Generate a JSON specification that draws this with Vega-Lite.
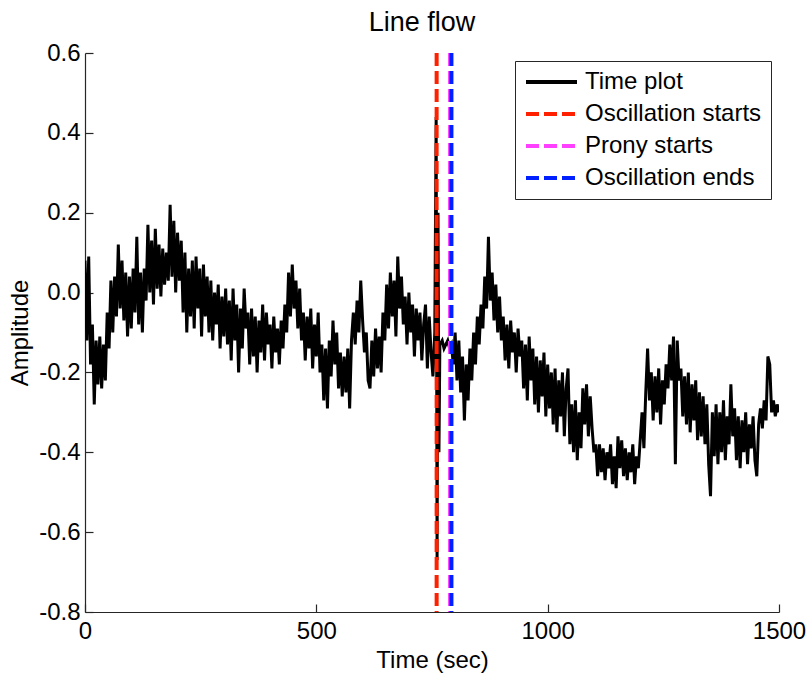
{
  "$schema": "https://vega.github.io/schema/vega-lite/v6.json",
  "autosize": "none",
  "width": 694,
  "height": 559,
  "padding": {"left": 85, "top": 53, "right": 27, "bottom": 63},
  "background": "white",
  "title": {"text": "Line flow", "fontSize": 27, "font": "Liberation Sans", "fontWeight": "normal", "color": "black", "offset": 4, "dx": -10},
  "config": {
    "view": {"stroke": null},
    "font": "Liberation Sans",
    "axis": {"domainColor": "#262626", "tickColor": "#262626", "labelColor": "black", "titleColor": "black", "labelFontSize": 24, "titleFontSize": 24, "titleFontWeight": "normal", "grid": false, "tickSize": -8, "domainWidth": 1.2, "tickWidth": 1.2, "labelFlush": false, "labelFont": "Liberation Sans", "titleFont": "Liberation Sans"},
    "legend": {"orient": "top-right", "offset": 8, "strokeColor": "#262626", "fillColor": "white", "padding": 9, "labelFontSize": 24, "labelFont": "Liberation Sans", "labelColor": "black", "labelLimit": 400, "symbolType": "stroke", "symbolSize": 2600, "symbolStrokeWidth": 4, "clipHeight": 24, "rowPadding": 8, "labelOffset": 6, "cornerRadius": 0}
  },
  "layer": [
    {
      "data": {"values": [
        {"t":0,"v":0.08},{"t":4,"v":-0.12},{"t":8,"v":0.09},{"t":12,"v":-0.18},{"t":16,"v":-0.08},{"t":20,"v":-0.28},{"t":24,"v":-0.12},{"t":28,"v":-0.23},{"t":32,"v":-0.11},{"t":36,"v":-0.24},{"t":40,"v":-0.13},{"t":44,"v":-0.22},{"t":48,"v":-0.05},{"t":52,"v":-0.14},{"t":56,"v":0.03},{"t":60,"v":-0.10},{"t":64,"v":0.04},{"t":68,"v":-0.06},{"t":72,"v":0.12},{"t":76,"v":-0.04},{"t":80,"v":0.08},{"t":84,"v":-0.07},{"t":88,"v":0.05},{"t":92,"v":-0.11},{"t":96,"v":0.04},{"t":100,"v":-0.09},{"t":104,"v":0.06},{"t":108,"v":-0.05},{"t":112,"v":0.14},{"t":116,"v":-0.08},{"t":120,"v":0.05},{"t":124,"v":-0.10},{"t":128,"v":0.06},{"t":132,"v":-0.02},{"t":136,"v":0.17},{"t":140,"v":0.00},{"t":144,"v":0.13},{"t":148,"v":-0.03},{"t":152,"v":0.16},{"t":156,"v":0.01},{"t":160,"v":0.12},{"t":164,"v":-0.01},{"t":168,"v":0.11},{"t":172,"v":0.02},{"t":176,"v":0.10},{"t":180,"v":0.03},{"t":184,"v":0.22},{"t":188,"v":0.04},{"t":192,"v":0.18},{"t":196,"v":0.00},{"t":200,"v":0.15},{"t":204,"v":0.03},{"t":208,"v":0.13},{"t":212,"v":-0.05},{"t":216,"v":0.10},{"t":220,"v":-0.10},{"t":224,"v":0.06},{"t":228,"v":-0.06},{"t":232,"v":0.08},{"t":236,"v":-0.09},{"t":240,"v":0.09},{"t":244,"v":-0.04},{"t":248,"v":0.06},{"t":252,"v":-0.11},{"t":256,"v":0.07},{"t":260,"v":-0.06},{"t":264,"v":0.04},{"t":268,"v":-0.10},{"t":272,"v":0.03},{"t":276,"v":-0.12},{"t":280,"v":0.00},{"t":284,"v":-0.08},{"t":288,"v":0.02},{"t":292,"v":-0.14},{"t":296,"v":-0.01},{"t":300,"v":-0.11},{"t":304,"v":0.01},{"t":308,"v":-0.13},{"t":312,"v":-0.02},{"t":316,"v":-0.17},{"t":320,"v":0.01},{"t":324,"v":-0.12},{"t":328,"v":-0.03},{"t":332,"v":-0.20},{"t":336,"v":-0.04},{"t":340,"v":-0.14},{"t":344,"v":0.01},{"t":348,"v":-0.09},{"t":352,"v":-0.05},{"t":356,"v":-0.18},{"t":360,"v":-0.04},{"t":364,"v":-0.16},{"t":368,"v":-0.06},{"t":372,"v":-0.20},{"t":376,"v":-0.07},{"t":380,"v":-0.15},{"t":384,"v":-0.03},{"t":388,"v":-0.17},{"t":392,"v":-0.05},{"t":396,"v":-0.13},{"t":400,"v":-0.08},{"t":404,"v":-0.19},{"t":408,"v":-0.06},{"t":412,"v":-0.15},{"t":416,"v":-0.09},{"t":420,"v":-0.18},{"t":424,"v":-0.07},{"t":428,"v":-0.14},{"t":432,"v":-0.03},{"t":436,"v":-0.10},{"t":440,"v":0.05},{"t":444,"v":-0.06},{"t":448,"v":0.07},{"t":452,"v":-0.04},{"t":456,"v":0.03},{"t":460,"v":-0.09},{"t":464,"v":0.01},{"t":468,"v":-0.12},{"t":472,"v":-0.05},{"t":476,"v":-0.17},{"t":480,"v":-0.06},{"t":484,"v":-0.14},{"t":488,"v":-0.04},{"t":492,"v":-0.19},{"t":496,"v":-0.08},{"t":500,"v":-0.16},{"t":504,"v":-0.05},{"t":508,"v":-0.20},{"t":512,"v":-0.13},{"t":516,"v":-0.27},{"t":520,"v":-0.14},{"t":524,"v":-0.29},{"t":528,"v":-0.12},{"t":532,"v":-0.21},{"t":536,"v":-0.07},{"t":540,"v":-0.18},{"t":544,"v":-0.10},{"t":548,"v":-0.24},{"t":552,"v":-0.15},{"t":556,"v":-0.26},{"t":560,"v":-0.16},{"t":564,"v":-0.25},{"t":568,"v":-0.14},{"t":572,"v":-0.29},{"t":576,"v":-0.12},{"t":580,"v":-0.05},{"t":584,"v":-0.13},{"t":588,"v":-0.02},{"t":592,"v":-0.10},{"t":596,"v":0.03},{"t":600,"v":-0.07},{"t":604,"v":-0.15},{"t":608,"v":-0.10},{"t":612,"v":-0.22},{"t":616,"v":-0.24},{"t":620,"v":-0.12},{"t":624,"v":-0.21},{"t":628,"v":-0.09},{"t":632,"v":-0.19},{"t":636,"v":-0.11},{"t":640,"v":-0.20},{"t":644,"v":-0.05},{"t":648,"v":-0.12},{"t":652,"v":0.02},{"t":656,"v":-0.09},{"t":660,"v":0.05},{"t":664,"v":-0.06},{"t":668,"v":0.03},{"t":672,"v":-0.11},{"t":676,"v":0.09},{"t":680,"v":-0.04},{"t":684,"v":0.04},{"t":688,"v":-0.08},{"t":692,"v":-0.01},{"t":696,"v":-0.13},{"t":700,"v":0.00},{"t":704,"v":-0.10},{"t":708,"v":-0.03},{"t":712,"v":-0.16},{"t":716,"v":-0.04},{"t":720,"v":-0.12},{"t":724,"v":-0.05},{"t":728,"v":-0.17},{"t":732,"v":-0.08},{"t":736,"v":-0.03},{"t":740,"v":-0.19},{"t":744,"v":-0.06},{"t":748,"v":-0.15},{"t":752,"v":-0.21},{"t":756,"v":-0.10},{"t":759,"v":0.44},{"t":761,"v":-0.67},{"t":763,"v":0.2},{"t":765,"v":-0.4},{"t":767,"v":-0.13},{"t":772,"v":-0.12},{"t":776,"v":-0.14},{"t":780,"v":-0.13},{"t":784,"v":-0.12},{"t":788,"v":-0.14},{"t":792,"v":-0.13},{"t":796,"v":-0.18},{"t":800,"v":-0.10},{"t":804,"v":-0.22},{"t":808,"v":-0.12},{"t":812,"v":-0.25},{"t":816,"v":-0.16},{"t":820,"v":-0.32},{"t":824,"v":-0.18},{"t":828,"v":-0.27},{"t":832,"v":-0.14},{"t":836,"v":-0.22},{"t":840,"v":-0.10},{"t":844,"v":-0.18},{"t":848,"v":-0.06},{"t":852,"v":-0.13},{"t":856,"v":-0.03},{"t":860,"v":-0.09},{"t":864,"v":0.04},{"t":868,"v":-0.04},{"t":872,"v":0.14},{"t":876,"v":-0.02},{"t":880,"v":0.05},{"t":884,"v":-0.07},{"t":888,"v":0.02},{"t":892,"v":-0.10},{"t":896,"v":-0.01},{"t":900,"v":-0.12},{"t":904,"v":-0.06},{"t":908,"v":-0.17},{"t":912,"v":-0.08},{"t":916,"v":-0.19},{"t":920,"v":-0.07},{"t":924,"v":-0.15},{"t":928,"v":-0.10},{"t":932,"v":-0.20},{"t":936,"v":-0.09},{"t":940,"v":-0.16},{"t":944,"v":-0.12},{"t":948,"v":-0.24},{"t":952,"v":-0.13},{"t":956,"v":-0.27},{"t":960,"v":-0.11},{"t":964,"v":-0.22},{"t":968,"v":-0.14},{"t":972,"v":-0.28},{"t":976,"v":-0.16},{"t":980,"v":-0.30},{"t":984,"v":-0.17},{"t":988,"v":-0.26},{"t":992,"v":-0.15},{"t":996,"v":-0.31},{"t":1000,"v":-0.18},{"t":1004,"v":-0.29},{"t":1008,"v":-0.20},{"t":1012,"v":-0.33},{"t":1016,"v":-0.19},{"t":1020,"v":-0.35},{"t":1024,"v":-0.22},{"t":1028,"v":-0.31},{"t":1032,"v":-0.20},{"t":1036,"v":-0.36},{"t":1040,"v":-0.24},{"t":1044,"v":-0.19},{"t":1048,"v":-0.38},{"t":1052,"v":-0.28},{"t":1056,"v":-0.40},{"t":1060,"v":-0.27},{"t":1064,"v":-0.42},{"t":1068,"v":-0.30},{"t":1072,"v":-0.39},{"t":1076,"v":-0.24},{"t":1080,"v":-0.33},{"t":1084,"v":-0.23},{"t":1088,"v":-0.36},{"t":1092,"v":-0.26},{"t":1096,"v":-0.34},{"t":1100,"v":-0.40},{"t":1104,"v":-0.38},{"t":1108,"v":-0.46},{"t":1112,"v":-0.38},{"t":1116,"v":-0.45},{"t":1120,"v":-0.39},{"t":1124,"v":-0.47},{"t":1128,"v":-0.40},{"t":1132,"v":-0.44},{"t":1136,"v":-0.38},{"t":1140,"v":-0.48},{"t":1144,"v":-0.41},{"t":1148,"v":-0.49},{"t":1152,"v":-0.36},{"t":1156,"v":-0.44},{"t":1160,"v":-0.37},{"t":1164,"v":-0.46},{"t":1168,"v":-0.39},{"t":1172,"v":-0.47},{"t":1176,"v":-0.40},{"t":1180,"v":-0.45},{"t":1184,"v":-0.38},{"t":1188,"v":-0.48},{"t":1192,"v":-0.41},{"t":1196,"v":-0.44},{"t":1200,"v":-0.37},{"t":1204,"v":-0.30},{"t":1208,"v":-0.39},{"t":1212,"v":-0.25},{"t":1216,"v":-0.14},{"t":1220,"v":-0.27},{"t":1224,"v":-0.20},{"t":1228,"v":-0.32},{"t":1232,"v":-0.21},{"t":1236,"v":-0.30},{"t":1240,"v":-0.19},{"t":1244,"v":-0.33},{"t":1248,"v":-0.22},{"t":1252,"v":-0.28},{"t":1256,"v":-0.18},{"t":1260,"v":-0.24},{"t":1264,"v":-0.13},{"t":1268,"v":-0.22},{"t":1272,"v":-0.11},{"t":1276,"v":-0.43},{"t":1280,"v":-0.12},{"t":1284,"v":-0.22},{"t":1288,"v":-0.19},{"t":1292,"v":-0.31},{"t":1296,"v":-0.21},{"t":1300,"v":-0.33},{"t":1304,"v":-0.20},{"t":1308,"v":-0.35},{"t":1312,"v":-0.23},{"t":1316,"v":-0.32},{"t":1320,"v":-0.22},{"t":1324,"v":-0.37},{"t":1328,"v":-0.25},{"t":1332,"v":-0.36},{"t":1336,"v":-0.26},{"t":1340,"v":-0.38},{"t":1344,"v":-0.28},{"t":1348,"v":-0.43},{"t":1352,"v":-0.51},{"t":1356,"v":-0.30},{"t":1360,"v":-0.41},{"t":1364,"v":-0.28},{"t":1368,"v":-0.43},{"t":1372,"v":-0.30},{"t":1376,"v":-0.40},{"t":1380,"v":-0.27},{"t":1384,"v":-0.42},{"t":1388,"v":-0.31},{"t":1392,"v":-0.38},{"t":1396,"v":-0.23},{"t":1400,"v":-0.36},{"t":1404,"v":-0.29},{"t":1408,"v":-0.42},{"t":1412,"v":-0.31},{"t":1416,"v":-0.44},{"t":1420,"v":-0.32},{"t":1424,"v":-0.40},{"t":1428,"v":-0.30},{"t":1432,"v":-0.43},{"t":1436,"v":-0.33},{"t":1440,"v":-0.39},{"t":1444,"v":-0.31},{"t":1448,"v":-0.42},{"t":1452,"v":-0.46},{"t":1456,"v":-0.33},{"t":1460,"v":-0.29},{"t":1464,"v":-0.34},{"t":1468,"v":-0.27},{"t":1472,"v":-0.32},{"t":1476,"v":-0.16},{"t":1480,"v":-0.18},{"t":1484,"v":-0.30},{"t":1488,"v":-0.27},{"t":1492,"v":-0.31},{"t":1496,"v":-0.28},{"t":1500,"v":-0.30}
      ]},
      "mark": {"type": "line", "strokeWidth": 3, "clip": true},
      "encoding": {
        "x": {"field": "t", "type": "quantitative", "scale": {"domain": [0, 1500], "nice": false, "zero": false}, "axis": {"values": [0, 500, 1000, 1500], "format": "d", "title": "Time (sec)", "labelPadding": 15, "titlePadding": 5}},
        "y": {"field": "v", "type": "quantitative", "scale": {"domain": [-0.8, 0.6], "nice": false, "zero": false}, "axis": {"values": [-0.8, -0.6, -0.4, -0.2, 0, 0.2, 0.4, 0.6], "title": "Amplitude", "labelExpr": "replace(format(datum.value, '.1f'), '\u2212', '-')", "labelPadding": 13, "titlePadding": 6}},
        "color": {"datum": "Time plot", "type": "nominal", "scale": {"domain": ["Time plot", "Oscillation starts", "Prony starts", "Oscillation ends"], "range": ["black", "#ff2000", "#ff40ff", "#0020ff"]}, "legend": {"title": null}},
        "strokeDash": {"datum": "Time plot", "type": "nominal", "scale": {"domain": ["Time plot", "Oscillation starts", "Prony starts", "Oscillation ends"], "range": [[1, 0], [13, 5], [13, 5], [13, 5]]}, "legend": {"title": null}}
      }
    },
    {
      "data": {"values": [
        {"s": "Oscillation starts", "t": 760},
        {"s": "Prony starts", "t": 789},
        {"s": "Oscillation ends", "t": 792}
      ]},
      "mark": {"type": "rule", "strokeWidth": 4},
      "encoding": {
        "x": {"field": "t", "type": "quantitative"},
        "color": {"field": "s", "type": "nominal", "legend": {"title": null}},
        "strokeDash": {"field": "s", "type": "nominal", "legend": {"title": null}}
      }
    }
  ]
}
